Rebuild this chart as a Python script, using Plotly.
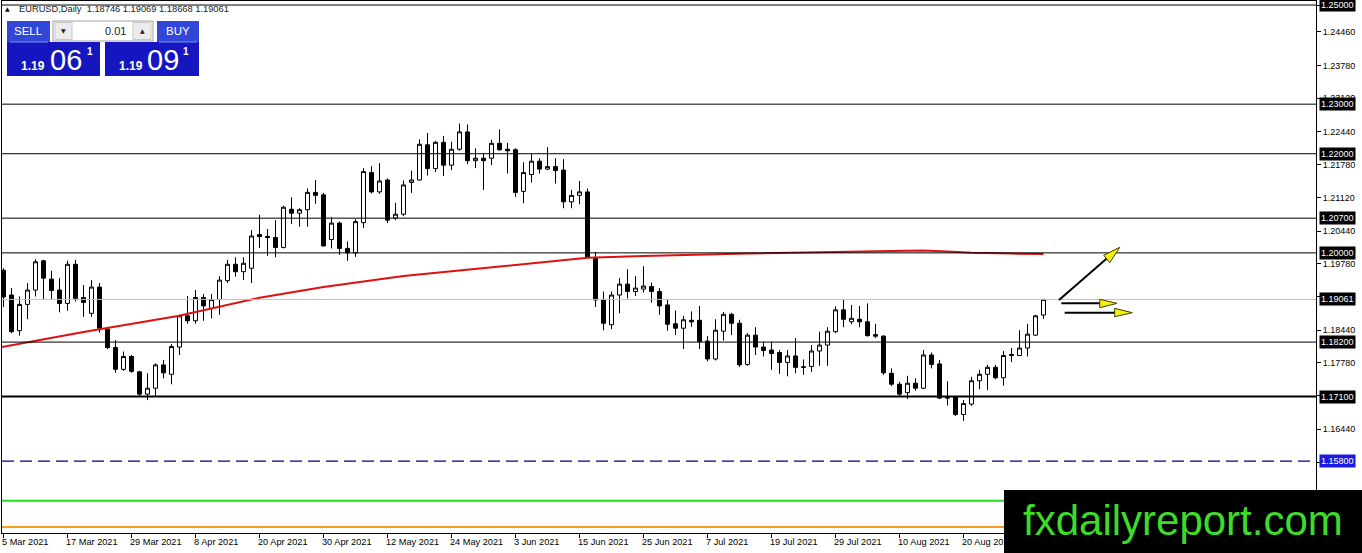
import plotly.graph_objects as go

# ---------------- data ----------------
symbol = "EURUSD,Daily"
opens = [1.1965, 1.1915, 1.1843, 1.1896, 1.1925, 1.1984, 1.1947, 1.1925, 1.1898, 1.1977,
         1.1910, 1.1878, 1.1931, 1.1846, 1.1809, 1.1765, 1.1791, 1.1760, 1.1715, 1.1727,
         1.1774, 1.1755, 1.1810, 1.1873, 1.1863, 1.1910, 1.1888, 1.1906, 1.1944, 1.1977,
         1.1962, 1.1969, 1.2037, 1.2033, 1.2031, 1.2011, 1.2088, 1.2080, 1.2087, 1.2122,
         1.2117, 1.2027, 1.2060, 1.2009, 1.2000, 1.2061, 1.2162, 1.2123, 1.2147, 1.2070,
         1.2078, 1.2142, 1.2147, 1.2218, 1.2170, 1.2223, 1.2177, 1.2209, 1.2244, 1.2186,
         1.2191, 1.2191, 1.2221, 1.2209, 1.2208, 1.2124, 1.2158, 1.2185, 1.2169, 1.2174,
         1.2167, 1.2103, 1.2116, 1.2123, 1.1989, 1.1905, 1.1855, 1.1915, 1.1937, 1.1922,
         1.1927, 1.1932, 1.1922, 1.1895, 1.1857, 1.1848, 1.1864, 1.1864, 1.1822, 1.1786,
         1.1842, 1.1876, 1.1858, 1.1775, 1.1834, 1.1810, 1.1804, 1.1799, 1.1779, 1.1792,
         1.1769, 1.1771, 1.1802, 1.1814, 1.1841, 1.1885, 1.1861, 1.1866, 1.1861, 1.1835,
         1.1832, 1.1757, 1.1735, 1.1718, 1.1737, 1.1727, 1.1794, 1.1776, 1.1707, 1.1710,
         1.1674, 1.1695, 1.1742, 1.1755, 1.1769, 1.1748, 1.1793, 1.1793, 1.1808, 1.1834,
         1.18746]
highs = [1.1969, 1.1929, 1.1912, 1.1939, 1.1987, 1.1986, 1.1964, 1.1949, 1.1984, 1.1986,
         1.1935, 1.1945, 1.1939, 1.1850, 1.1824, 1.1801, 1.1794, 1.1762, 1.1757, 1.1777,
         1.1784, 1.1816, 1.1875, 1.1913, 1.1925, 1.1917, 1.1917, 1.1953, 1.1986, 1.1991,
         1.1991, 1.2046, 1.2077, 1.2048, 1.2066, 1.2095, 1.2112, 1.2090, 1.2130, 1.2147,
         1.2121, 1.2072, 1.2063, 1.2023, 1.2068, 1.2171, 1.2175, 1.2181, 1.2150, 1.2101,
         1.2146, 1.2166, 1.2229, 1.2242, 1.2226, 1.2236, 1.2224, 1.2261, 1.2259, 1.2211,
         1.2201, 1.2228, 1.2249, 1.2222, 1.2211, 1.2183, 1.2199, 1.2191, 1.2213, 1.2191,
         1.2189, 1.2127, 1.2145, 1.2130, 1.2002, 1.1922, 1.1922, 1.1949, 1.1967, 1.1953,
         1.1973, 1.1940, 1.1929, 1.1906, 1.1884, 1.1873, 1.1882, 1.1893, 1.1832, 1.1866,
         1.1881, 1.1879, 1.1865, 1.1838, 1.1850, 1.1821, 1.1821, 1.1804, 1.1804, 1.1828,
         1.1785, 1.1814, 1.1841, 1.1850, 1.1892, 1.1906, 1.1895, 1.1893, 1.1898, 1.1857,
         1.1834, 1.1767, 1.1740, 1.1752, 1.1747, 1.1804, 1.1799, 1.1784, 1.1741, 1.1711,
         1.1703, 1.1750, 1.1764, 1.1774, 1.1774, 1.1802, 1.1808, 1.1844, 1.1857, 1.1875,
         1.19069]
lows = [1.1891, 1.1838, 1.1833, 1.1866, 1.1912, 1.1906, 1.1906, 1.1880, 1.1883, 1.1902,
        1.1871, 1.1871, 1.1839, 1.1806, 1.1758, 1.1762, 1.1758, 1.1711, 1.1703, 1.1711,
        1.1747, 1.1735, 1.1794, 1.1857, 1.1857, 1.1863, 1.1868, 1.1875, 1.1939, 1.1952,
        1.1945, 1.1939, 1.2010, 1.1994, 1.1991, 1.2009, 1.2058, 1.2053, 1.2053, 1.2099,
        1.2013, 1.2009, 1.1996, 1.1984, 1.1992, 1.2050, 1.2120, 1.2119, 1.2060, 1.2066,
        1.2074, 1.2121, 1.2146, 1.2156, 1.2163, 1.2155, 1.2167, 1.2206, 1.2179, 1.2171,
        1.2127, 1.2177, 1.2206, 1.2160, 1.2113, 1.2100, 1.2142, 1.2160, 1.2167, 1.2140,
        1.2090, 1.2090, 1.2098, 1.1991, 1.1891, 1.1844, 1.1846, 1.1878, 1.1908, 1.1913,
        1.1920, 1.1900, 1.1875, 1.1843, 1.1834, 1.1806, 1.1851, 1.1806, 1.1781, 1.1783,
        1.1823, 1.1834, 1.1770, 1.1772, 1.1794, 1.1791, 1.1764, 1.1756, 1.1751, 1.1757,
        1.1754, 1.1760, 1.1772, 1.1772, 1.1838, 1.1850, 1.1856, 1.1850, 1.1831, 1.1828,
        1.1754, 1.1731, 1.1710, 1.1705, 1.1722, 1.1725, 1.1767, 1.1705, 1.1692, 1.1671,
        1.1661, 1.1691, 1.1725, 1.1723, 1.1745, 1.1732, 1.1780, 1.1793, 1.1791, 1.1832,
        1.18668]
closes = [1.1911, 1.1841, 1.1896, 1.1925, 1.1982, 1.1949, 1.1924, 1.1898, 1.1977, 1.1908,
          1.1900, 1.1931, 1.1848, 1.1809, 1.1765, 1.1791, 1.1761, 1.1715, 1.1727, 1.1774,
          1.1758, 1.1811, 1.1873, 1.1863, 1.1910, 1.1893, 1.1906, 1.1945, 1.1977, 1.1962,
          1.1979, 1.2034, 1.2033, 1.2031, 1.2011, 1.2092, 1.2080, 1.2087, 1.2122, 1.2116,
          1.2014, 1.2060, 1.2009, 1.2000, 1.2063, 1.2164, 1.2123, 1.2145, 1.2066, 1.2078,
          1.2137, 1.2147, 1.2219, 1.2170, 1.2223, 1.2177, 1.2209, 1.2244, 1.2186, 1.2191,
          1.2186, 1.2221, 1.2208, 1.2206, 1.2122, 1.2162, 1.2185, 1.2169, 1.2174, 1.2166,
          1.2103, 1.2116, 1.2123, 1.1991, 1.1905, 1.1858, 1.1915, 1.1937, 1.1922, 1.1929,
          1.1933, 1.1922, 1.1893, 1.1856, 1.1848, 1.1865, 1.1861, 1.1821, 1.1786, 1.1844,
          1.1876, 1.1858, 1.1774, 1.1834, 1.1810, 1.1803, 1.1797, 1.1779, 1.1792, 1.1769,
          1.1770, 1.1802, 1.1814, 1.1842, 1.1885, 1.1866, 1.1868, 1.1861, 1.1833, 1.1832,
          1.1758, 1.1735, 1.1715, 1.1737, 1.1727, 1.1794, 1.1775, 1.1707, 1.1708, 1.1674,
          1.1696, 1.1742, 1.1755, 1.1769, 1.1748, 1.1793, 1.1795, 1.1808, 1.1836, 1.1873,
          1.19061]
candle_index = list(range(len(opens)))

date_tick_index = [0, 8, 16, 24, 32, 40, 48, 56, 64, 72, 80, 88, 96, 104, 112, 120]
date_tick_labels = ["5 Mar 2021", "17 Mar 2021", "29 Mar 2021", "8 Apr 2021", "20 Apr 2021",
                    "30 Apr 2021", "12 May 2021", "24 May 2021", "3 Jun 2021", "15 Jun 2021",
                    "25 Jun 2021", "7 Jul 2021", "19 Jul 2021", "29 Jul 2021", "10 Aug 2021",
                    "20 Aug 2021"]

price_ticks = [1.25000, 1.24460, 1.23780, 1.23120, 1.22440, 1.21780, 1.21120, 1.20440,
               1.19780, 1.19120, 1.18440, 1.17780, 1.17120, 1.16440, 1.15780]

# moving average (red line), sampled along its path
ma_index = [-0.19, 10, 21.8, 32, 40, 50, 63, 73, 80, 93, 111, 115, 118, 121, 126, 130]
ma_values = [1.18101, 1.18403, 1.18726, 1.19095, 1.19310, 1.19533, 1.19741, 1.19902, 1.19937,
             1.19987, 1.20037, 1.20050, 1.20030, 1.20003, 1.19985, 1.19977]

black_levels = [1.25000, 1.23000, 1.22000, 1.20700, 1.20000, 1.18200]
bold_level = 1.17100
dashed_level = 1.15800
green_level = 1.15000
orange_level = 1.14470
bid = closes[-1]
ask = 1.19091
lot = "0.01"

# drawn arrow objects (chart coordinates: candle index, price)
arrow_up_line = [(131.94, 1.19049), (139.0, 1.20040)]
arrow_up_head = [(139.53, 1.20112), (137.53, 1.19951), (138.28, 1.19801)]
arrow_mid_line = [(132.23, 1.18982), (137.5, 1.18982)]
arrow_mid_head = [(137.03, 1.19063), (139.19, 1.18982), (137.03, 1.18894)]
arrow_low_line = [(132.65, 1.18793), (139.3, 1.18793)]
arrow_low_head = [(138.9, 1.18881), (141.1, 1.18793), (138.9, 1.18712)]

# ---------------- geometry ----------------
W, H = 1362, 553
ML, MR, MT, MB = 2, 46, 1, 20
PW, PH = W - ML - MR, H - MT - MB
X_RANGE = [-0.1875, 164.0625]
Y_RANGE = [1.143487, 1.25081]
FONT = "Liberation Sans, Arial, sans-serif"


def paper_x(px):
    return (px - ML) / PW


def paper_y(py):
    return 1 - (py - MT) / PH


fig = go.Figure()
fig.add_trace(go.Candlestick(
    x=candle_index, open=opens, high=highs, low=lows, close=closes,
    increasing=dict(line=dict(color="black", width=1), fillcolor="white"),
    decreasing=dict(line=dict(color="black", width=1), fillcolor="black"),
    whiskerwidth=0, hoverinfo="skip", showlegend=False,
))
fig.add_trace(go.Scatter(
    x=ma_index, y=ma_values, mode="lines", line=dict(color="#dd1111", width=2),
    hoverinfo="skip", showlegend=False,
))

shapes = []


def hline(y, color, width, dash="solid"):
    shapes.append(dict(type="line", xref="paper", x0=0, x1=1, yref="y", y0=y, y1=y,
                       line=dict(color=color, width=width, dash=dash), layer="above"))


for lv in black_levels:
    hline(lv, "black", 1)
hline(bid, "#c0c0c0", 1)
hline(bold_level, "black", 2)
hline(dashed_level, "#000080", 1.3, "12px,6px")
hline(green_level, "#22dd22", 2)
hline(orange_level, "#f5a020", 2)


def seg(pts, color="black", width=2):
    (x0, y0), (x1, y1) = pts
    shapes.append(dict(type="line", xref="x", yref="y", x0=x0, y0=y0, x1=x1, y1=y1,
                       line=dict(color=color, width=width), layer="above"))


def tri(pts):
    path = "M {} {} L {} {} L {} {} Z".format(*[v for p in pts for v in p])
    shapes.append(dict(type="path", xref="x", yref="y", path=path, fillcolor="#f4f010",
                       line=dict(color="#404000", width=1), layer="above"))


seg(arrow_up_line)
tri(arrow_up_head)
seg(arrow_mid_line)
tri(arrow_mid_head)
seg(arrow_low_line)
tri(arrow_low_head)


def prect(x0, y0, x1, y1, fill, line=None, lw=0):
    shapes.append(dict(type="rect", xref="paper", yref="paper",
                       x0=paper_x(x0), x1=paper_x(x1), y0=paper_y(y1), y1=paper_y(y0),
                       fillcolor=fill, line=dict(color=line or fill, width=lw), layer="above"))


# one-click trading panel
prect(7, 21, 50, 42, "#3246d8")
prect(157, 21, 199, 42, "#3246d8")
prect(7, 42, 100, 76, "#1616c0")
prect(105, 42, 199, 76, "#1616c0")
prect(10, 41.5, 48, 42.5, "#8090f0")
prect(159, 41.5, 197, 42.5, "#8090f0")
prect(53, 21, 153, 41, "white", "#a0a0a0", 1)
prect(55, 22.5, 72, 39.5, "#ececec", "#c8c8c8", 1)
prect(133, 22.5, 151, 39.5, "#ececec", "#c8c8c8", 1)
# logo box
prect(1004, 490, 1362, 553, "black")

annotations = []


def ptext(text, cx, cy, size, color, anchor="center", family=FONT):
    annotations.append(dict(xref="paper", yref="paper", x=paper_x(cx), y=paper_y(cy),
                            text=text, showarrow=False, xanchor=anchor, yanchor="middle",
                            borderpad=0, font=dict(family=family, size=size, color=color)))


bid_s = f"{bid:.5f}"
ask_s = f"{ask:.5f}"
ptext("SELL", 28.5, 31.5, 11.5, "white")
ptext("BUY", 178, 31.5, 11.5, "white")
ptext(lot, 127, 31, 11, "#202020", anchor="right")
ptext("▼", 63.5, 31, 6, "#202020", family="DejaVu Sans")
ptext("▲", 142, 31, 6, "#202020", family="DejaVu Sans")
ptext(f"<b>{bid_s[:4]}</b>", 32.5, 66, 12, "white")
ptext(bid_s[4:6], 65.5, 60.3, 29, "white")
ptext(f"<b>{bid_s[6]}</b>", 89.5, 51.7, 10, "white")
ptext(f"<b>{ask_s[:4]}</b>", 130.5, 66, 12, "white")
ptext(ask_s[4:6], 163.3, 60.3, 29, "white")
ptext(f"<b>{ask_s[6]}</b>", 185.5, 51.7, 10, "white")

# header
ptext("▲", 7.5, 8.5, 6, "black", family="DejaVu Sans")
header = f"{symbol}  {opens[-1]:.5f} {highs[-1]:.5f} {lows[-1]:.5f} {closes[-1]:.5f}"
ptext(header, 18, 9, 9.3, "#202020", anchor="left")

# logo text
ptext("fxdailyreport.com", 1021.5, 520, 42, "#3cdc28", anchor="left")

# date labels (left aligned at their candle, MT4 style)
for idx, lab in zip(date_tick_index, date_tick_labels):
    annotations.append(dict(xref="x", yref="paper", x=idx, y=0, text=lab, showarrow=False,
                            xanchor="left", yanchor="top", xshift=-2.5, yshift=-3,
                            borderpad=0, font=dict(family=FONT, size=9.2, color="black")))

# price label boxes on right axis
level_boxes = [(lv, "black") for lv in black_levels] + [(bold_level, "black"),
                                                         (dashed_level, "#1a1ae0"), (bid, "black")]
for lv, bg in level_boxes:
    annotations.append(dict(xref="paper", yref="y", x=1, y=lv, text=f"{lv:.5f}",
                            showarrow=False, xanchor="left", yanchor="middle", xshift=3,
                            bgcolor=bg, borderpad=1,
                            font=dict(family=FONT, size=9, color="white")))

fig.update_layout(
    width=W, height=H, margin=dict(l=ML, r=MR, t=MT, b=MB),
    paper_bgcolor="white", plot_bgcolor="white",
    showlegend=False, boxgap=0.5, boxgroupgap=0,
    shapes=shapes, annotations=annotations,
    xaxis=dict(range=X_RANGE, showgrid=False, zeroline=False, rangeslider=dict(visible=False),
               tickvals=date_tick_index, ticks="outside", ticklen=4, tickcolor="black",
               showticklabels=False, showline=True, linecolor="black", linewidth=1,
               mirror=True, fixedrange=True),
    yaxis=dict(range=Y_RANGE, side="right", showgrid=False, zeroline=False,
               tickvals=price_ticks, ticktext=[f"{v:.5f}" for v in price_ticks],
               ticks="outside", ticklen=4, tickcolor="black",
               tickfont=dict(family=FONT, size=9, color="black"),
               showline=True, linecolor="black", linewidth=1, mirror=True, fixedrange=True),
)

fig.write_html("out.html", config=dict(displayModeBar=False),
               post_script="document.body.style.margin='0';document.body.style.overflow='hidden';")
